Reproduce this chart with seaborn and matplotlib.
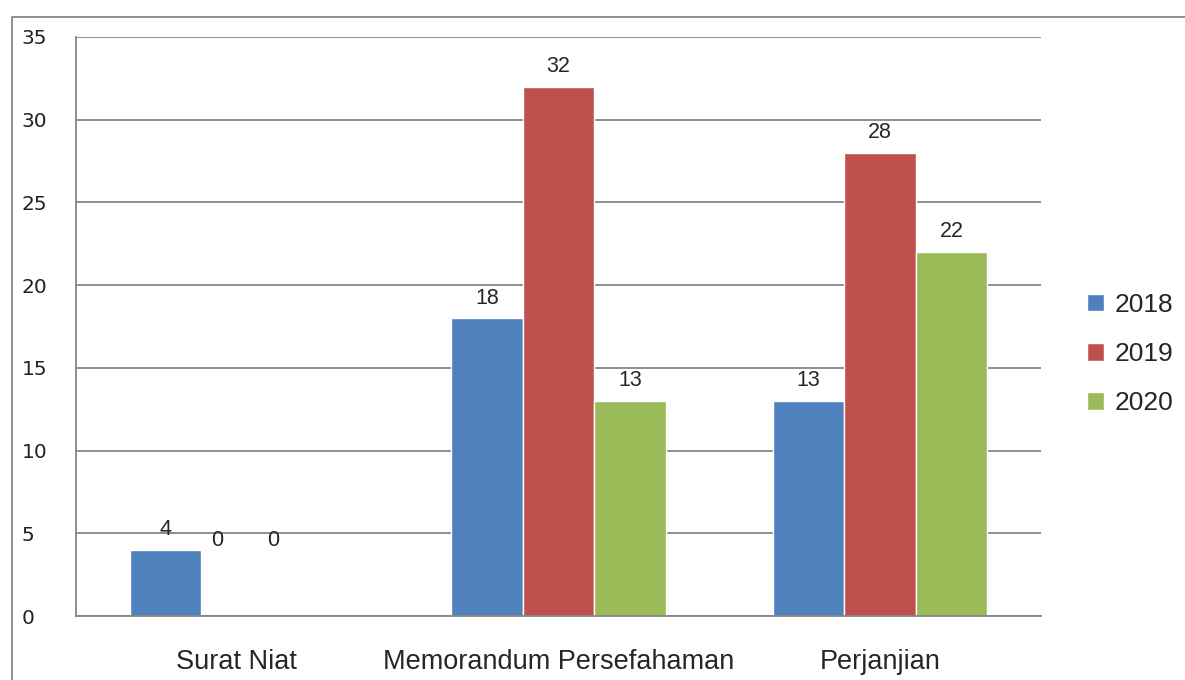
import pandas as pd
import seaborn as sns
import matplotlib.pyplot as plt
from matplotlib.patches import Rectangle

categories = ["Surat Niat", "Memorandum Persefahaman", "Perjanjian"]
years = ["2018", "2019", "2020"]
values_2018 = [4, 18, 13]
values_2019 = [0, 32, 28]
values_2020 = [0, 13, 22]
colors = ["#4F81BD", "#C0504D", "#9BBB59"]

rows = []
for year, vals in zip(years, [values_2018, values_2019, values_2020]):
    for cat, v in zip(categories, vals):
        rows.append({"Kategori": cat, "Tahun": year, "Jumlah": v})
df = pd.DataFrame(rows)

sns.set_style("white")
label_font = ["Liberation Sans Narrow", "Liberation Sans", "DejaVu Sans"]

fig = plt.figure(figsize=(11.85, 6.8), dpi=100)
ax = fig.add_axes([0.0641, 0.0941, 0.8144, 0.8515])

sns.barplot(data=df, x="Kategori", y="Jumlah", hue="Tahun", palette=colors,
            width=0.667, saturation=1, ax=ax, legend=True)

ax.set_ylim(0, 35)
ax.set_xlim(-0.5, 2.5)
ax.set_yticks(range(0, 36, 5))
ax.yaxis.grid(True, color="#868686", linewidth=1.3)
ax.set_axisbelow(True)
ax.set_xlabel("")
ax.set_ylabel("")

for side in ["top", "right"]:
    ax.spines[side].set_visible(False)
for side in ["left", "bottom"]:
    ax.spines[side].set_color("#868686")
    ax.spines[side].set_linewidth(1.3)

ax.tick_params(axis="y", length=6, color="#868686", width=1.3, pad=33,
               labelsize=14.5, labelfontfamily="DejaVu Sans", labelcolor="#222222")
for lbl in ax.get_yticklabels():
    lbl.set_horizontalalignment("left")

ax.set_xticks([0, 1, 2])
ax.set_xticklabels(categories, family=label_font, fontsize=19.5)
ax.tick_params(axis="x", length=0, pad=24)
# garis pemisah kategori
ax.set_xticks([-0.5, 0.5, 1.5, 2.5], minor=True)
ax.tick_params(axis="x", which="minor", length=9, color="#868686", width=1.3, direction="out")

# Excel puts the zero labels a bit left and up
zero_shift = {1: -14, 2: -25}
for i, container in enumerate(ax.containers):
    labels = [f"{int(b.get_height())}" for b in container]
    anns = ax.bar_label(container, labels=labels, padding=7, family=label_font, fontsize=15.5)
    for b, ann in zip(container, anns):
        if b.get_height() == 0:
            ann.xyann = (zero_shift.get(i, 0), 47)

ax.legend(loc="center left", bbox_to_anchor=(1.037, 0.4525), frameon=False,
          borderaxespad=0, prop={"family": label_font, "size": 19},
          handlelength=0.65, handleheight=0.65, handletextpad=0.4,
          labelspacing=0.95)

fig.patches.append(Rectangle((12 / 1185, -0.1), 1.2, (680 - 17) / 680 + 0.1,
                             transform=fig.transFigure, fill=False,
                             edgecolor="#868686", linewidth=1.3))

fig.savefig("out.png", dpi=100)
